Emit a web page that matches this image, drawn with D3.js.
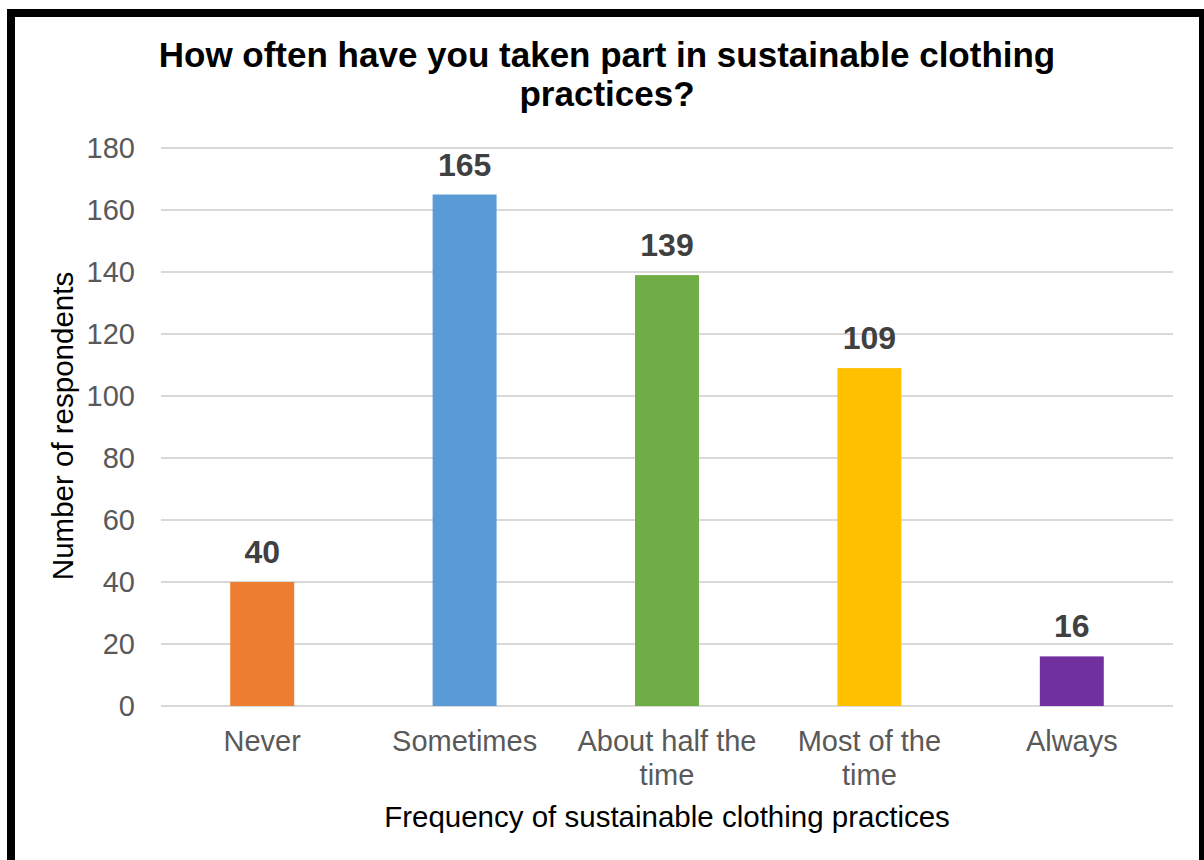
<!DOCTYPE html>
<html>
<head>
<meta charset="utf-8">
<script src="https://cdn.jsdelivr.net/npm/d3@7"></script>
<style>
  body { margin: 0; background: #fff; }
  text { font-family: "Liberation Sans", Arial, sans-serif; }
</style>
</head>
<body>
<div id="chart"></div>
<script>
var categories = ["Never", "Sometimes", "About half the time", "Most of the time", "Always"];
var counts = [40, 165, 139, 109, 16];
var barColors = ["#ED7D31", "#5B9BD5", "#70AD47", "#FFC000", "#7030A0"];
var yTicks = [0, 20, 40, 60, 80, 100, 120, 140, 160, 180];

var W = 1204, H = 860;
var margin = { top: 148, right: 31, bottom: 154, left: 161 },
    width = W - margin.left - margin.right,
    height = H - margin.top - margin.bottom;

var svg = d3.select("#chart")
    .append("svg")
    .attr("width", W)
    .attr("height", H)
    .style("background", "#fff");

// frame around everything (bottom edge falls off the picture)
svg.append("rect")
    .attr("x", 11)
    .attr("y", 13)
    .attr("width", 1192)
    .attr("height", 900)
    .style("fill", "none")
    .style("stroke", "#000")
    .style("stroke-width", 8);

var g = svg.append("g")
    .attr("transform", "translate(" + margin.left + "," + margin.top + ")");

var x = d3.scaleBand()
    .domain(categories)
    .range([0, width])
    .paddingInner(0.684)
    .paddingOuter(0.342);

var y = d3.scaleLinear()
    .domain([0, 180])
    .range([height, 0]);

// gridlines
g.append("g")
    .selectAll("line")
    .data(yTicks)
    .enter()
    .append("line")
    .attr("x1", 0)
    .attr("x2", width)
    .attr("y1", function(d) { return y(d); })
    .attr("y2", function(d) { return y(d); })
    .style("stroke", "#D9D9D9")
    .style("stroke-width", 2);

// y axis
var yAxis = g.append("g")
    .call(d3.axisLeft(y).tickValues(yTicks).tickSize(0).tickPadding(26));
yAxis.select(".domain").remove();
yAxis.selectAll("text")
    .style("font-size", "29px")
    .style("font-family", "'Liberation Sans', Arial, sans-serif")
    .style("fill", "#595959");

// x axis
var xAxis = g.append("g")
    .attr("transform", "translate(0," + height + ")")
    .call(d3.axisBottom(x).tickSize(0).tickPadding(24));
xAxis.select(".domain").remove();
xAxis.selectAll("text")
    .style("font-size", "29px")
    .style("font-family", "'Liberation Sans', Arial, sans-serif")
    .style("fill", "#595959")
    .call(wrap, 195);

// bars
g.selectAll("rect.bar")
    .data(categories)
    .enter()
    .append("rect")
    .attr("class", "bar")
    .attr("x", function(d) { return x(d); })
    .attr("y", function(d, i) { return y(counts[i]); })
    .attr("width", x.bandwidth())
    .attr("height", function(d, i) { return height - y(counts[i]); })
    .style("fill", function(d, i) { return barColors[i]; });

// value labels
g.selectAll("text.val")
    .data(categories)
    .enter()
    .append("text")
    .attr("class", "val")
    .attr("x", function(d) { return x(d) + x.bandwidth() / 2; })
    .attr("y", function(d, i) { return y(counts[i]) - 19; })
    .attr("text-anchor", "middle")
    .style("font-size", "32px")
    .style("font-weight", "bold")
    .style("fill", "#404040")
    .text(function(d, i) { return counts[i]; });

// title
var title = svg.append("text")
    .attr("x", 607)
    .attr("y", 67)
    .attr("text-anchor", "middle")
    .style("font-size", "35px")
    .style("font-weight", "bold")
    .style("fill", "#000");
title.append("tspan").attr("x", 607).text("How often have you taken part in sustainable clothing");
title.append("tspan").attr("x", 607).attr("dy", 39).text("practices?");

// axis titles
svg.append("text")
    .attr("x", 667)
    .attr("y", 827)
    .attr("text-anchor", "middle")
    .style("font-size", "29.5px")
    .style("fill", "#000")
    .text("Frequency of sustainable clothing practices");

svg.append("text")
    .attr("transform", "translate(73,426) rotate(-90)")
    .attr("text-anchor", "middle")
    .style("font-size", "29.5px")
    .style("fill", "#000")
    .text("Number of respondents");

function wrap(texts, maxW) {
  texts.each(function() {
    var text = d3.select(this),
        words = text.text().split(/\s+/),
        line = [],
        lineNo = 0,
        yy = text.attr("y"),
        dy = parseFloat(text.attr("dy")),
        tspan = text.text(null).append("tspan").attr("x", 0).attr("y", yy).attr("dy", dy + "em");
    words.forEach(function(w) {
      line.push(w);
      tspan.text(line.join(" "));
      if (tspan.node().getComputedTextLength() > maxW && line.length > 1) {
        line.pop();
        tspan.text(line.join(" "));
        line = [w];
        lineNo++;
        tspan = text.append("tspan").attr("x", 0).attr("y", yy)
          .attr("dy", (lineNo * 1.18 + dy) + "em").text(w);
      }
    });
  });
}
</script>
</body>
</html>
